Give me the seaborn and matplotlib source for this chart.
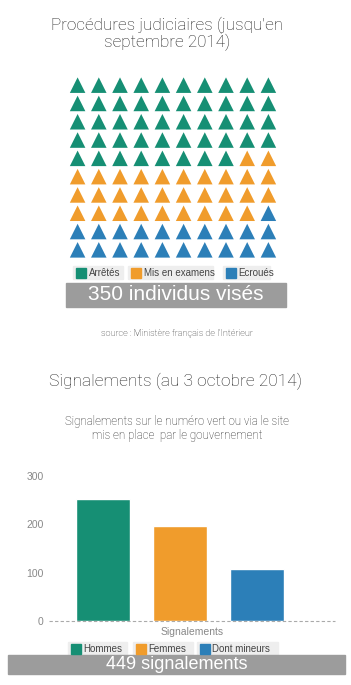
import numpy as np
import pandas as pd
import matplotlib
matplotlib.use("Agg")
import matplotlib.pyplot as plt
from matplotlib.patches import Rectangle
import seaborn as sns

# --- Données ---
proc_labels = ["Arrêtés", "Mis en examens", "Ecroués"]
proc_icons = [48, 31, 21]          # triangles sur une grille 10x10
proc_total = 350

sig_labels = ["Hommes", "Femmes", "Dont mineurs"]
sig_values = [252, 197, 108]
sig_total = 449
sig_ticks = [0, 100, 200, 300]

colors = ["#168f74", "#f09c2c", "#2c7fb8"]

W, H = 351, 685

sns.set_theme(style="white")
plt.rcParams["font.family"] = ["Roboto", "DejaVu Sans"]

fig = plt.figure(figsize=(W / 100, H / 100), dpi=100)


def px_axes(x0, y0, x1, y1):
    # rectangle en pixels (origine en haut à gauche) -> axes
    return fig.add_axes([x0 / W, 1 - y1 / H, (x1 - x0) / W, (y1 - y0) / H])


def fx(x):
    return x / W


def fy(y):
    return 1 - y / H


def banner(x0, y0, x1, y1, txt, size):
    fig.patches.append(Rectangle((fx(x0), fy(y1)), fx(x1 - x0), (y1 - y0) / H,
                                 transform=fig.transFigure, color="#9c9c9c", zorder=0))
    fig.text(fx((x0 + x1) / 2), fy((y0 + y1) / 2), txt, color="white", fontsize=size,
             ha="center", va="center", family=["Liberation Sans", "DejaVu Sans"])


def legend_row(items, y0, y1, size):
    # items: (x0, x1, label, couleur)
    for x0, x1, lab, col in items:
        fig.patches.append(Rectangle((fx(x0), fy(y1)), fx(x1 - x0), (y1 - y0) / H,
                                     transform=fig.transFigure, color="#eeeeee", zorder=0))
        sq = (y1 - y0) - 3
        fig.patches.append(Rectangle((fx(x0 + 2.5), fy(y1 - 1.5)), fx(sq), sq / H,
                                     transform=fig.transFigure, color=col, zorder=1))
        fig.text(fx(x0 + sq + 5.5), fy((y0 + y1) / 2), lab, fontsize=size, color="#444444",
                 ha="left", va="center", family=["Liberation Sans", "DejaVu Sans"])


# --- Titre 1 ---
fig.text(fx(167), fy(25), "Procédures judiciaires (jusqu'en", ha="center", va="center",
         fontsize=12.3, color="#222222", fontweight="light")
fig.text(fx(167), fy(42), "septembre 2014)", ha="center", va="center",
         fontsize=12.3, color="#222222", fontweight="light")

# --- Gaufre de triangles ---
cats = np.repeat(proc_labels, proc_icons)
idx = np.arange(len(cats))
waffle = pd.DataFrame({"col": idx % 10, "row": idx // 10, "cat": cats})
ax1 = px_axes(67, 76, 279, 259)
sns.scatterplot(data=waffle, x="col", y="row", hue="cat", hue_order=proc_labels,
                palette=colors, marker="^", s=125, linewidth=0, legend=False, ax=ax1)
ax1.set_xlim(-0.5, 9.5)
ax1.set_ylim(9.5, -0.5)
ax1.axis("off")

legend_row([(73, 123, proc_labels[0], colors[0]),
            (128, 213, proc_labels[1], colors[1]),
            (223, 270, proc_labels[2], colors[2])], 266, 279, 7)
banner(66, 283, 286, 307, f"{proc_total} individus visés", 15)

fig.text(fx(177), fy(333), "source : Ministère français de l'Intérieur", ha="center",
         va="center", fontsize=6.6, color="#222222", fontweight="light")

# --- Titre 2 ---
fig.text(fx(176), fy(381), "Signalements (au 3 octobre 2014)", ha="center", va="center",
         fontsize=12.5, color="#222222", fontweight="light")
fig.text(fx(177), fy(422), "Signalements sur le numéro vert ou via le site", ha="center",
         va="center", fontsize=8.3, color="#222222", fontweight="light")
fig.text(fx(177), fy(435), "mis en place  par le gouvernement", ha="center",
         va="center", fontsize=8.3, color="#222222", fontweight="light")

# --- Barres ---
bars = pd.DataFrame({"groupe": ["Signalements"] * 3, "cat": sig_labels, "n": sig_values})
ax2 = px_axes(49, 476, 335, 621)
sns.barplot(data=bars, x="groupe", y="n", hue="cat", hue_order=sig_labels,
            palette=colors, width=0.8, gap=0.3, saturation=1, legend=False, ax=ax2)
ax2.set_xlim(-0.452, 0.538)
ax2.set_ylim(0, 300)
ax2.set_yticks(sig_ticks)
ax2.tick_params(axis="y", length=0, pad=4, labelsize=7.5, labelcolor="#888888")
ax2.set_xticks([])
ax2.set_xlabel("Signalements", fontsize=7.5, color="#888888", labelpad=4,
               family=["Liberation Sans", "DejaVu Sans"])
ax2.set_ylabel("")
for lab in ax2.get_yticklabels():
    lab.set_family(["Liberation Sans", "DejaVu Sans"])
sns.despine(ax=ax2, left=True, bottom=True)
ax2.axhline(0, color="#aaaaaa", lw=0.8, ls=(0, (3, 2)), zorder=3, clip_on=False)

legend_row([(68, 127, sig_labels[0], colors[0]),
            (133, 193, sig_labels[1], colors[1]),
            (197, 278, sig_labels[2], colors[2])], 642, 655, 7)
banner(8, 655, 345, 674, f"{sig_total} signalements", 13)

fig.savefig("out.png", dpi=100)
